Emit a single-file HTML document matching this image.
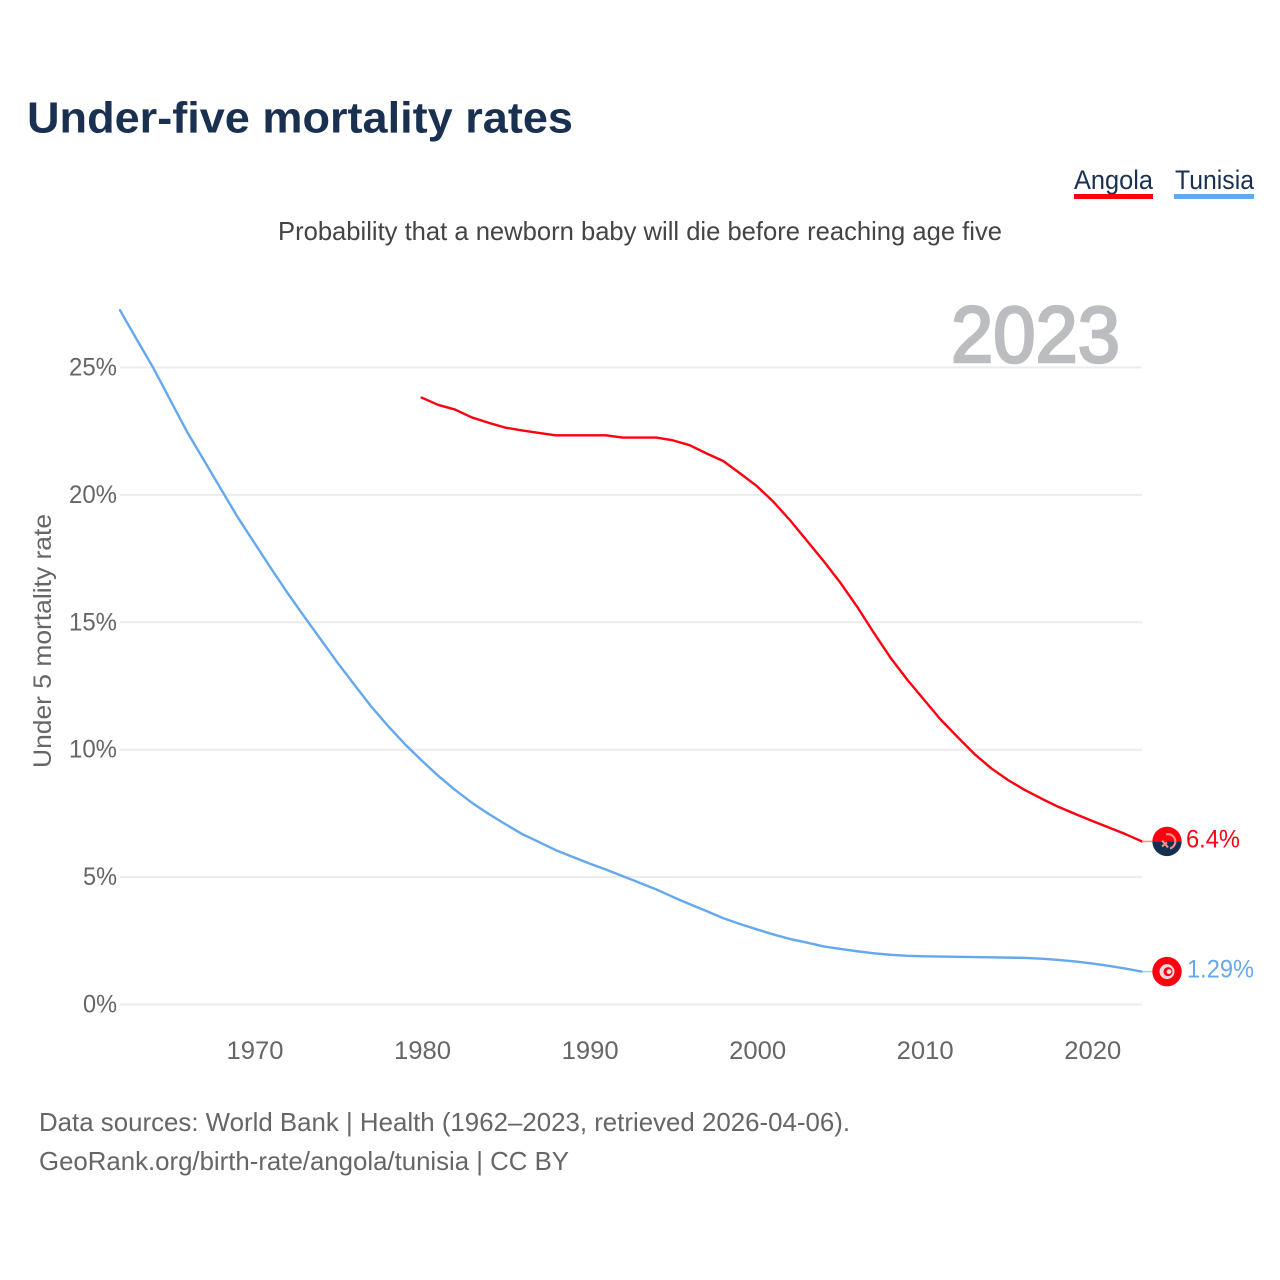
<!DOCTYPE html>
<html lang="en">
<head>
<meta charset="utf-8">
<title>Under-five mortality rates</title>
<style>
html,body{margin:0;padding:0;background:#fff;width:1280px;height:1280px;overflow:hidden}
svg{display:block}
text{font-family:"Liberation Sans",Arial,sans-serif}
</style>
</head>
<body>
<svg id="chart" xmlns="http://www.w3.org/2000/svg" width="1280" height="1280" viewBox="0 0 1280 1280">
  <rect x="0" y="0" width="1280" height="1280" fill="#ffffff"/>
  <text x="27" y="132.5" font-size="44" font-weight="700" fill="#1a3050" textLength="546" lengthAdjust="spacingAndGlyphs">Under-five mortality rates</text>
  <text x="278" y="240" font-size="26" fill="#444444" textLength="724" lengthAdjust="spacingAndGlyphs">Probability that a newborn baby will die before reaching age five</text>
  <g>
    <text x="1074" y="189" font-size="27" fill="#1a3050" textLength="79" lengthAdjust="spacingAndGlyphs">Angola</text>
    <rect x="1074" y="194" width="79" height="5" fill="#ff0011"/>
  </g>
  <g>
    <text x="1175" y="189" font-size="27" fill="#1a3050" textLength="79" lengthAdjust="spacingAndGlyphs">Tunisia</text>
    <rect x="1174" y="194" width="80" height="5" fill="#64a8ee"/>
  </g>
  <text x="951" y="362" font-size="80" font-weight="400" fill="#bbbdc0" stroke="#bbbdc0" stroke-width="2.6" textLength="169" lengthAdjust="spacingAndGlyphs">2023</text>
  <g id="grid"></g>
  <g id="yticks"></g>
  <g id="xticks"></g>
  <text transform="translate(51,641) rotate(-90)" text-anchor="middle" font-size="25" fill="#666666" textLength="254" lengthAdjust="spacingAndGlyphs">Under 5 mortality rate</text>
  <g id="series"></g>
  <g id="ends"></g>
  <text x="39" y="1131" font-size="26" fill="#666666" textLength="811" lengthAdjust="spacingAndGlyphs">Data sources: World Bank | Health (1962–2023, retrieved 2026-04-06).</text>
  <text x="39" y="1170" font-size="26" fill="#666666" textLength="530" lengthAdjust="spacingAndGlyphs">GeoRank.org/birth-rate/angola/tunisia | CC BY</text>
</svg>
<script>
const yTickValues = [0, 5, 10, 15, 20, 25];
const xTickYears = [1970, 1980, 1990, 2000, 2010, 2020];
const tunisiaStartYear = 1962;
const tunisiaValues = [
  27.25, 26.1, 24.97, 23.72, 22.48, 21.37, 20.26, 19.15,
  18.14, 17.13, 16.15, 15.22, 14.31, 13.4, 12.54, 11.69, 10.93, 10.22,
  9.58, 8.97, 8.42, 7.92, 7.48, 7.08, 6.69, 6.38, 6.06, 5.8,
  5.54, 5.3, 5.04, 4.78, 4.52, 4.22, 3.94, 3.67, 3.39, 3.16,
  2.95, 2.75, 2.57, 2.43, 2.28, 2.18, 2.09, 2.01, 1.95, 1.91,
  1.89, 1.88, 1.87, 1.86, 1.85, 1.84, 1.83, 1.8, 1.75, 1.69,
  1.61, 1.52, 1.41, 1.29
];
const angolaStartYear = 1980;
const angolaValues = [
  23.82, 23.53, 23.35, 23.04, 22.83, 22.64, 22.53, 22.43, 22.34, 22.34,
  22.34, 22.34, 22.25, 22.25, 22.25, 22.14, 21.95, 21.63, 21.33, 20.85,
  20.35, 19.73, 19.0, 18.2, 17.4, 16.55, 15.61, 14.58, 13.6, 12.74,
  11.95, 11.17, 10.49, 9.83, 9.27, 8.81, 8.42, 8.08, 7.76, 7.48,
  7.21, 6.95, 6.69, 6.4
];
const angolaLabel = "6.4%";
const tunisiaLabel = "1.29%";
const tickSuffix = "%";

const NS = "http://www.w3.org/2000/svg";
const xFirst = 1962, xLast = 2023, xLeft = 120, xRight = 1142;
const yBase = 1004.5, yPerPct = 25.48;
function xScale(year) { return xLeft + (year - xFirst) * (xRight - xLeft) / (xLast - xFirst); }
function yScale(v) { return yBase - v * yPerPct; }
function mk(tag, attrs, parent) {
  const el = document.createElementNS(NS, tag);
  for (const k in attrs) el.setAttribute(k, attrs[k]);
  parent.appendChild(el);
  return el;
}

const grid = document.getElementById("grid");
const yticks = document.getElementById("yticks");
const xticks = document.getElementById("xticks");
const seriesG = document.getElementById("series");
const ends = document.getElementById("ends");

yTickValues.forEach(function (v) {
  const y = yScale(v);
  const line = mk("line", { x1: xLeft, x2: xRight, y1: y, y2: y, stroke: "#ececee", "stroke-width": 2 }, grid);
  
  
  const t = mk("text", { x: 117, y: y + 8, "text-anchor": "end", "font-size": 25, fill: "#666666", textLength: v >= 10 ? 48 : 34, lengthAdjust: "spacingAndGlyphs" }, yticks);
  
  
  t.textContent = v + tickSuffix;
});

xTickYears.forEach(function (yr) {
  const t = mk("text", { x: xScale(yr) + 1, y: 1059, "text-anchor": "middle", "font-size": 25, fill: "#666666", textLength: 57, lengthAdjust: "spacingAndGlyphs" }, xticks);
  
  
  t.textContent = yr;
});

function linePath(values, startYear) {
  return values.map(function (v, i) {
    return (i ? "L" : "M") + xScale(startYear + i).toFixed(2) + " " + yScale(v).toFixed(2);
  }).join(" ");
}

const tunisiaLine = mk("path", { d: linePath(tunisiaValues, tunisiaStartYear), fill: "none", stroke: "#64a8ee", "stroke-width": 2.4, "stroke-linejoin": "round", "stroke-linecap": "round" }, seriesG);


const angolaLine = mk("path", { d: linePath(angolaValues, angolaStartYear), fill: "none", stroke: "#ff0011", "stroke-width": 2.4, "stroke-linejoin": "round", "stroke-linecap": "round" }, seriesG);



const flagX = 1167;
const r = 14.7;

/* Angola end marker */
const aVal = angolaValues[angolaValues.length - 1];
const aY = yScale(aVal);
const aConn = mk("line", { x1: xRight, x2: flagX - r, y1: aY, y2: aY, stroke: "#ff8a90", "stroke-width": 1.5 }, ends);


const aFlag = mk("g", {}, ends);


mk("path", { d: "M" + (flagX - r) + " " + aY + " A" + r + " " + r + " 0 0 1 " + (flagX + r) + " " + aY + " Z", fill: "#ff0011" }, aFlag);
mk("path", { d: "M" + (flagX - r) + " " + aY + " A" + r + " " + r + " 0 0 0 " + (flagX + r) + " " + aY + " Z", fill: "#152f52" }, aFlag);
mk("path", { d: "M" + (flagX - 1) + " " + (aY - 7) + " A7 7 0 0 1 " + (flagX + 3) + " " + (aY + 7) + " M" + (flagX - 5) + " " + (aY - 1) + " L" + (flagX + 1) + " " + (aY + 6) + " M" + (flagX - 5) + " " + (aY + 5) + " L" + (flagX) + " " + (aY + 1), fill: "none", stroke: "#f58d80", "stroke-width": 2.2 }, aFlag);
const aText = mk("text", { x: 1186, y: aY + 6, "font-size": 25, fill: "#ff0011", textLength: 54, lengthAdjust: "spacingAndGlyphs" }, ends);


aText.textContent = angolaLabel;

/* Tunisia end marker */
const tVal = tunisiaValues[tunisiaValues.length - 1];
const tY = yScale(tVal);
const tConn = mk("line", { x1: xRight, x2: flagX - r, y1: tY, y2: tY, stroke: "#a9cdf5", "stroke-width": 1.5 }, ends);


const tFlag = mk("g", {}, ends);


mk("circle", { cx: flagX, cy: tY, r: r, fill: "#ff0011" }, tFlag);
mk("circle", { cx: flagX, cy: tY, r: 7.5, fill: "#f8d8d8" }, tFlag);
mk("circle", { cx: flagX + 1, cy: tY, r: 4.5, fill: "#ff0011" }, tFlag);
mk("circle", { cx: flagX + 2, cy: tY, r: 2.4, fill: "#f8d8d8" }, tFlag);
const tText = mk("text", { x: 1187, y: tY + 6, "font-size": 25, fill: "#64a8ee", textLength: 67, lengthAdjust: "spacingAndGlyphs" }, ends);


tText.textContent = tunisiaLabel;
</script>
</body>
</html>
